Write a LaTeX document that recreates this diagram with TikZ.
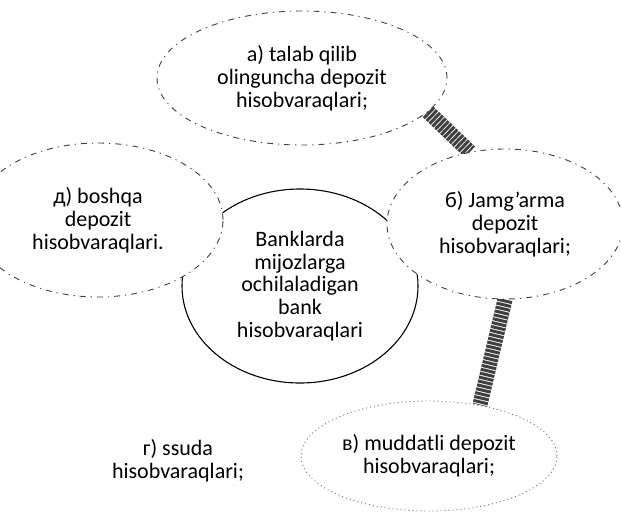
\documentclass[tikz,border=0pt]{standalone}
\usepackage{fontspec}
\setmainfont{Carlito}
\usetikzlibrary{shapes.geometric,backgrounds}

\begin{document}
\begin{tikzpicture}[x=1pt,y=-1pt,
  every node/.style={font=\fontsize{22}{22.8}\selectfont, align=center},
  kernel/.style={ellipse, draw, line width=1.1pt, minimum width=236pt, minimum height=194pt, inner sep=0pt},
  kind/.style={ellipse, draw=black!75, fill=white, line width=0.9pt, dash pattern=on 6pt off 5pt on 1.2pt off 5pt, inner sep=0pt},
  bar/.style={line width=15pt, black!75, dash pattern=on 3pt off 1pt}]
\useasboundingbox (0,0) rectangle (621,525);
% centre
\node[kernel] (bank) at (300,286) {Banklarda\\mijozlarga\\ochilaladigan\\bank\\hisobvaraqlari};
% kinds of accounts
\node[kind, minimum width=290pt, minimum height=134pt] (a) at (302,78) {а) talab qilib\\olinguncha depozit\\hisobvaraqlari;};
\node[kind, minimum width=236pt, minimum height=150pt] (b) at (505,224) {б) Jamg'arma\\depozit\\hisobvaraqlari;};
\node[kind, minimum width=250pt, minimum height=154pt] (d) at (98,220) {д) boshqa\\depozit\\hisobvaraqlari.};
\node[kind, draw=black!55, dash pattern=on 1pt off 3pt, minimum width=256pt, minimum height=110pt] (v) at (429,456) {в) muddatli depozit\\hisobvaraqlari;};
\node (g) at (178,461) {г) ssuda\\hisobvaraqlari;};
\begin{scope}[on background layer]
\draw[bar] (a.345) -- (b.116);
\draw[bar] (b.south) -- (v.45);
\end{scope}
\end{tikzpicture}
\end{document}
